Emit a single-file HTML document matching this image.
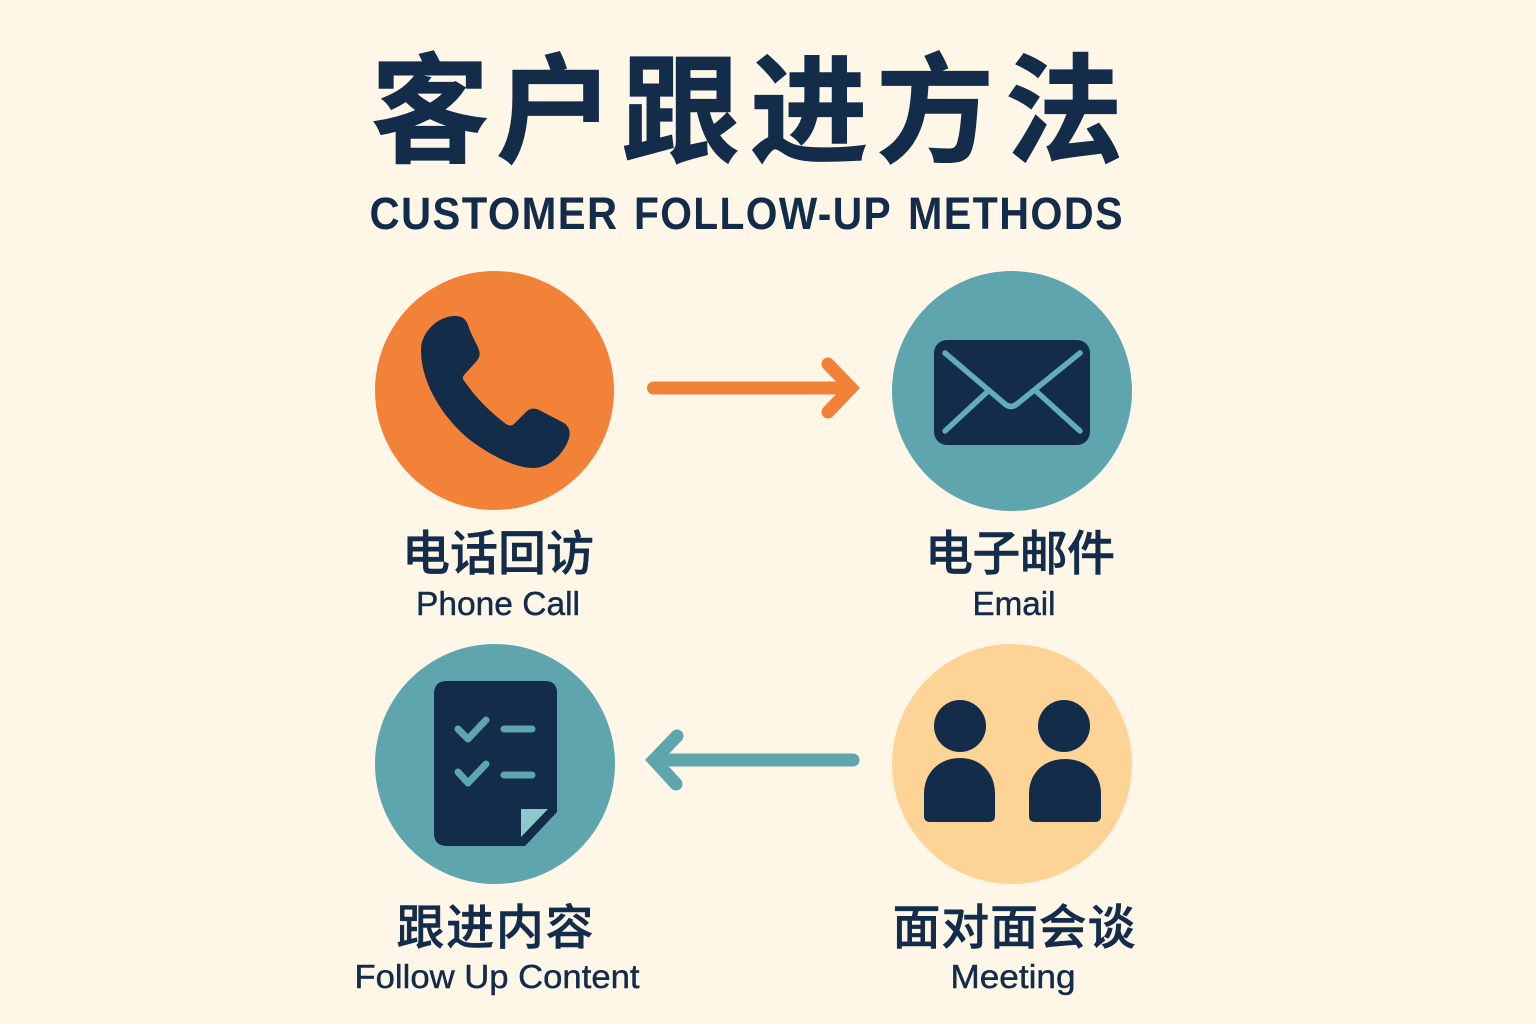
<!DOCTYPE html>
<html><head><meta charset="utf-8">
<style>
html,body{margin:0;padding:0;background:#fef7e8}
svg{display:block}
text{font-family:"Liberation Sans","Noto Sans CJK SC",sans-serif;fill:#122c4a;text-anchor:middle}
.cn{font-size:48px;font-weight:500;stroke:#122c4a;stroke-width:.5px}
.en{font-size:33px;stroke:#122c4a;stroke-width:.45px}
.sub{font-size:45px;font-weight:700;letter-spacing:1.5px}
</style></head>
<body>
<svg width="1536" height="1024" viewBox="0 0 1536 1024" xmlns="http://www.w3.org/2000/svg">
<rect width="1536" height="1024" fill="#fef7e8"/>
<text x="430 555 681 809 935 1064" y="153" font-size="118" font-weight="700" stroke="#122c4a" stroke-width="1.2">客户跟进方法</text>
<text x="494" y="229" class="sub" textLength="249" lengthAdjust="spacingAndGlyphs">CUSTOMER</text>
<text x="763" y="229" class="sub" textLength="258" lengthAdjust="spacingAndGlyphs">FOLLOW-UP</text>
<text x="1016" y="229" class="sub" textLength="216" lengthAdjust="spacingAndGlyphs">METHODS</text>

<circle cx="494.500" cy="390.500" r="119.500" fill="#f28238"/>
<circle cx="1012" cy="391" r="120" fill="#5fa5ae"/>
<circle cx="495" cy="764" r="120" fill="#5fa5ae"/>
<circle cx="1012" cy="764" r="120" fill="#fdd396"/>

<!-- phone -->
<path d="M421 350C421 332 438 316 455 316C462 316 466 319 468 325C471 335 476 342 479 350C481 356 478 360 474 364L464 375C462 378 463 380 465 382C476 398 490 412 506 424C509 426 512 426 514 424L526 412C530 408 535 408 539 410L564 423C570 427 571 434 568 441C562 456 548 468 533 468C515 468 490 455 470 440C445 420 421 385 421 350Z" fill="#122c4a"/>

<!-- arrows -->
<path d="M653.500 388H850" stroke="#f28238" stroke-width="13" stroke-linecap="round" fill="none"/>
<circle cx="828" cy="364" r="6.500" fill="#f28238"/>
<circle cx="828" cy="412" r="6.500" fill="#f28238"/>
<path d="M828 364L851 388L828 412" stroke="#f28238" stroke-width="13" stroke-linejoin="miter" fill="none"/>
<path d="M853 760H660" stroke="#5fa5ae" stroke-width="13" stroke-linecap="round" fill="none"/>
<circle cx="677" cy="736" r="6.500" fill="#5fa5ae"/>
<circle cx="676" cy="784" r="6.500" fill="#5fa5ae"/>
<path d="M677 736L654 760L676 784" stroke="#5fa5ae" stroke-width="13" stroke-linejoin="miter" fill="none"/>

<!-- envelope -->
<rect x="934" y="340" width="156" height="105" rx="13" fill="#122c4a"/>
<path d="M945 353L1005 404Q1011 409 1017 404L1080 353M945 431L987 392M1080 431L1037 392" stroke="#62adb8" stroke-width="5.500" stroke-linecap="round" stroke-linejoin="round" fill="none"/>

<!-- document -->
<path d="M447 681H545Q557 681 557 693V812L525 846H447Q434 846 434 833V694Q434 681 447 681Z" fill="#122c4a"/>
<path d="M521 809H548L521 837Z" fill="#8cc8cc"/>
<path d="M458 729L468 739L486 720M458 772L468 783L486 764" stroke="#5fa5ae" stroke-width="7" stroke-linecap="round" stroke-linejoin="round" fill="none"/>
<path d="M504 729H532M504 775H532" stroke="#5fa5ae" stroke-width="7" stroke-linecap="round" fill="none"/>

<!-- people -->
<circle cx="960" cy="726" r="26" fill="#122c4a"/>
<circle cx="1064" cy="726" r="26" fill="#122c4a"/>
<path d="M924 794C924 772 940 758 960 758C980 758 995 772 995 794V816Q995 822 989 822H930Q924 822 924 816Z" fill="#122c4a"/>
<path d="M1029 794C1029 772 1045 759 1065 759C1085 759 1101 772 1101 794V816Q1101 822 1095 822H1035Q1029 822 1029 816Z" fill="#122c4a"/>

<!-- labels -->
<text x="498" y="570" class="cn" textLength="192" lengthAdjust="spacing">电话回访</text>
<text x="498" y="615" class="en" textLength="164" lengthAdjust="spacingAndGlyphs">Phone Call</text>
<text x="1020" y="570" class="cn" textLength="190" lengthAdjust="spacing">电子邮件</text>
<text x="1014" y="615" class="en" textLength="83" lengthAdjust="spacingAndGlyphs">Email</text>
<text x="495" y="944" class="cn" textLength="197" lengthAdjust="spacing">跟进内容</text>
<text x="497" y="988" class="en" textLength="285" lengthAdjust="spacingAndGlyphs">Follow Up Content</text>
<text x="1014" y="944" class="cn" textLength="243" lengthAdjust="spacing">面对面会谈</text>
<text x="1013" y="988" class="en" textLength="125" lengthAdjust="spacingAndGlyphs">Meeting</text>
</svg>
</body></html>
